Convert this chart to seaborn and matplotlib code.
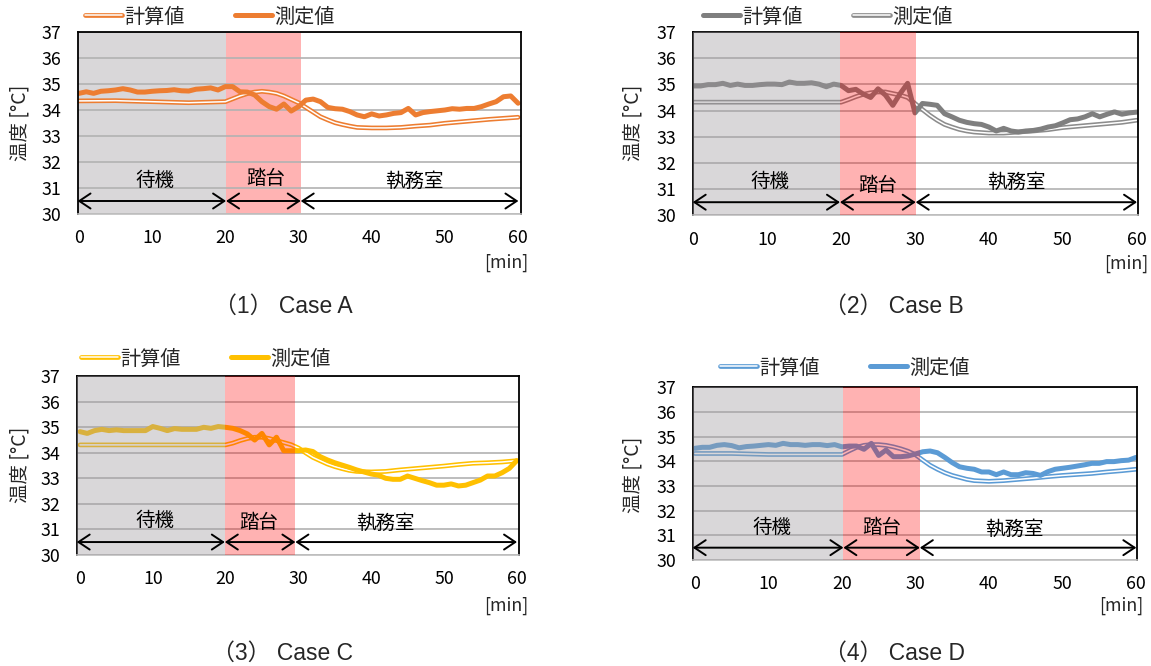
import numpy as np
import pandas as pd
import seaborn as sns
import matplotlib
matplotlib.use("Agg")
import matplotlib.pyplot as plt
from matplotlib.lines import Line2D
from matplotlib.legend_handler import HandlerTuple

# ---------------- data ----------------
minutes = list(range(0, 61))
calc_minutes = [0, 5, 10, 15, 20, 21, 22, 23, 24, 25, 26, 27, 28, 29, 30, 31, 32, 33, 34,
                35, 36, 37, 38, 40, 42, 44, 46, 48, 50, 52, 54, 56, 58, 60]

meas_A = [34.64, 34.70, 34.64, 34.72, 34.74, 34.77, 34.82, 34.77, 34.69, 34.69,
          34.72, 34.74, 34.75, 34.78, 34.74, 34.73, 34.80, 34.82, 34.85, 34.77,
          34.90, 34.90, 34.70, 34.69, 34.58, 34.32, 34.13, 34.03, 34.23, 33.96,
          34.13, 34.38, 34.42, 34.32, 34.10, 34.05, 34.03, 33.94, 33.81, 33.74,
          33.85, 33.77, 33.81, 33.87, 33.90, 34.06, 33.81, 33.90, 33.94, 33.97,
          34.00, 34.05, 34.03, 34.06, 34.06, 34.13, 34.23, 34.32, 34.51, 34.54, 34.26]
calc_A = [34.35, 34.36, 34.32, 34.28, 34.32, 34.43, 34.54, 34.63, 34.69, 34.72, 34.69,
          34.64, 34.54, 34.41, 34.28, 34.10, 33.92, 33.74, 33.62, 33.51, 33.44, 33.38,
          33.33, 33.31, 33.31, 33.33, 33.38, 33.42, 33.49, 33.54, 33.59, 33.64, 33.68, 33.72]

meas_B = [34.94, 34.94, 34.99, 34.99, 35.04, 34.96, 35.01, 34.96, 34.96, 34.99,
          35.01, 35.01, 34.99, 35.09, 35.04, 35.04, 35.06, 35.01, 34.91, 35.01,
          34.96, 34.76, 34.81, 34.63, 34.50, 34.83, 34.59, 34.20, 34.65, 35.04,
          33.91, 34.27, 34.24, 34.20, 33.88, 33.76, 33.63, 33.55, 33.50, 33.47,
          33.37, 33.22, 33.32, 33.22, 33.18, 33.22, 33.24, 33.29, 33.37, 33.42,
          33.53, 33.65, 33.68, 33.76, 33.88, 33.76, 33.86, 33.95, 33.86, 33.91, 33.94]
calc_B = [34.32, 34.32, 34.32, 34.32, 34.32, 34.42, 34.53, 34.62, 34.68, 34.71, 34.71,
          34.65, 34.59, 34.50, 34.27, 34.04, 33.82, 33.63, 33.47, 33.37, 33.28, 33.22,
          33.18, 33.14, 33.14, 33.18, 33.22, 33.27, 33.35, 33.40, 33.45, 33.50, 33.55, 33.63]

meas_C = [34.83, 34.76, 34.87, 34.92, 34.87, 34.90, 34.87, 34.87, 34.87, 34.87,
          35.03, 34.96, 34.87, 34.95, 34.92, 34.92, 34.92, 35.00, 34.96, 35.03,
          35.00, 34.96, 34.87, 34.74, 34.50, 34.76, 34.31, 34.61, 34.08, 34.08,
          34.08, 34.11, 34.05, 33.85, 33.72, 33.61, 33.52, 33.43, 33.33, 33.25,
          33.17, 33.12, 33.00, 32.96, 32.96, 33.09, 33.00, 32.91, 32.83, 32.73,
          32.73, 32.78, 32.70, 32.73, 32.83, 32.93, 33.09, 33.09, 33.22, 33.39, 33.69]
calc_C = [34.31, 34.31, 34.31, 34.31, 34.31, 34.38, 34.48, 34.56, 34.61, 34.61, 34.56,
          34.48, 34.40, 34.32, 34.19, 34.00, 33.82, 33.69, 33.56, 33.46, 33.38, 33.31,
          33.27, 33.25, 33.27, 33.33, 33.38, 33.43, 33.48, 33.54, 33.59, 33.61, 33.64, 33.69]

meas_D = [34.53, 34.57, 34.57, 34.65, 34.68, 34.64, 34.55, 34.60, 34.62, 34.65,
          34.68, 34.65, 34.73, 34.68, 34.68, 34.65, 34.68, 34.68, 34.64, 34.68,
          34.59, 34.62, 34.62, 34.49, 34.73, 34.24, 34.46, 34.19, 34.19, 34.22,
          34.30, 34.39, 34.42, 34.35, 34.16, 33.95, 33.78, 33.72, 33.68, 33.57,
          33.57, 33.46, 33.57, 33.46, 33.46, 33.54, 33.51, 33.43, 33.58, 33.68,
          33.72, 33.76, 33.81, 33.86, 33.92, 33.92, 33.99, 33.99, 34.03, 34.05, 34.16]
calc_D = [34.32, 34.32, 34.28, 34.28, 34.28, 34.43, 34.57, 34.65, 34.68, 34.68, 34.65,
          34.59, 34.51, 34.41, 34.27, 34.05, 33.84, 33.68, 33.54, 33.43, 33.35, 33.27,
          33.22, 33.19, 33.22, 33.27, 33.32, 33.38, 33.43, 33.47, 33.51, 33.57, 33.62, 33.68]

series_labels = ["計算値", "測定値"]
phase_labels = ["待機", "踏台", "執務室"]
y_ticks = [30, 31, 32, 33, 34, 35, 36, 37]
x_ticks = [0, 10, 20, 30, 40, 50, 60]
captions = ["（1） Case A", "（2） Case B", "（3） Case C", "（4） Case D"]

# ---------------- style ----------------
sns.set_theme(style="white")
plt.rcParams["font.family"] = ["Noto Sans CJK JP", "DejaVu Sans"]
CAP_FONT = ["Liberation Sans", "Noto Sans CJK JP"]

W, H = 1151, 666
fig = plt.figure(figsize=(W / 100, H / 100), dpi=100)


def px_rect(l, t, r, b):
    return [l / W, 1 - b / H, (r - l) / W, (b - t) / H]


panels = [
    dict(rect=(77.5, 32, 521, 214), xlim=(-0.2, 60.4), color="#ED7D31", calc_color="#ED7D31",
         meas=meas_A, calc=calc_A, overlay=False, gray_end=20.1, pink_end=30.3,
         legend_xy=(85, 17), swap=False, ylabel_xy=(20, 123), caption_xy=(283, 306),
         phase_x=[10.4, 25.5, 45.9], phase_y=[31.3, 31.35, 31.25], min_xy=(528, 263)),
    dict(rect=(692.7, 32, 1138, 215.3), xlim=(-0.08, 60.18), color="#7F7F7F", calc_color="#8C8C8C",
         meas=meas_B, calc=calc_B, overlay=True, gray_end=19.85, pink_end=30.1,
         legend_xy=(703, 17), swap=True, ylabel_xy=(633, 123), caption_xy=(894, 306),
         phase_x=[10.4, 24.9, 43.7], phase_y=[31.3, 31.15, 31.25], min_xy=(1148, 264)),
    dict(rect=(76.7, 376.3, 519.3, 554.8), xlim=(-0.45, 60.36), color="#FFC000", calc_color="#FFC000",
         meas=meas_C, calc=calc_C, overlay=True, gray_end=19.9, pink_end=29.6,
         legend_xy=(81, 359), swap=False, ylabel_xy=(20, 465), caption_xy=(283, 653),
         phase_x=[10.3, 24.5, 41.9], phase_y=[31.35, 31.25, 31.25], min_xy=(528, 606)),
    dict(rect=(692.7, 387.4, 1137.3, 560), xlim=(-0.3, 60.18), color="#5B9BD5", calc_color="#5B9BD5",
         meas=meas_D, calc=calc_D, overlay=True, gray_end=20.2, pink_end=30.6,
         legend_xy=(720, 368), swap=False, ylabel_xy=(633, 475), caption_xy=(894, 653),
         phase_x=[10.5, 25.4, 43.5], phase_y=[31.3, 31.3, 31.25], min_xy=(1143, 606)),
]

OUT_LW, IN_LW, MEAS_LW = 3.4, 1.1, 3.6

for i, p in enumerate(panels):
    ax = fig.add_axes(px_rect(*p["rect"]))
    x0, x1 = p["xlim"]

    # shaded phases
    if p["overlay"]:
        ax.axvspan(x0, p["gray_end"], color=(160 / 255, 155 / 255, 160 / 255), alpha=0.4, lw=0, zorder=3)
        ax.axvspan(p["gray_end"], p["pink_end"], color="red", alpha=0.3, lw=0, zorder=3)
    else:
        ax.axvspan(x0, p["gray_end"], color="#D9D7D9", lw=0, zorder=0.2)
        ax.axvspan(p["gray_end"], p["pink_end"], color="#FFB3B3", lw=0, zorder=0.2)

    # calculated (double / outlined line)
    sns.lineplot(x=calc_minutes, y=p["calc"], ax=ax, color=p["calc_color"], lw=OUT_LW,
                 legend=False, zorder=2, solid_capstyle="round", solid_joinstyle="round")
    sns.lineplot(x=calc_minutes, y=p["calc"], ax=ax, color="white", lw=IN_LW,
                 legend=False, zorder=2.1, solid_capstyle="round", solid_joinstyle="round")
    # measured (thick line)
    sns.lineplot(x=minutes, y=p["meas"], ax=ax, color=p["color"], lw=MEAS_LW,
                 legend=False, zorder=2.2, solid_capstyle="round", solid_joinstyle="round")

    ax.set_xlim(x0, x1)
    ax.set_ylim(30, 37)
    ax.set_xticks(x_ticks)
    ax.set_yticks(y_ticks)
    ax.set_xlabel("")
    ax.set_ylabel("")
    ax.set_axisbelow(True)
    ax.yaxis.grid(True, color="#B2B2B2", lw=1.2)
    ax.xaxis.grid(False)
    ax.tick_params(axis="both", length=0, labelsize=12.8, colors="black")
    ax.tick_params(axis="x", pad=11)
    ax.tick_params(axis="y", pad=12)
    for side in ["left", "top", "right"]:
        ax.spines[side].set_color("black")
        ax.spines[side].set_linewidth(1.3)
    ax.spines["bottom"].set_color("#BFBFBF")
    ax.spines["bottom"].set_linewidth(1.2)

    # phase arrows and labels
    edges = [x0, p["gray_end"], p["pink_end"], 60.05]
    for a, b in zip(edges[:-1], edges[1:]):
        ax.annotate("", xy=(b, 30.5), xytext=(a, 30.5),
                    arrowprops=dict(arrowstyle="<->,head_length=0.45,head_width=0.3",
                                    lw=1.4, color="black", shrinkA=0, shrinkB=0,
                                    mutation_scale=18),
                    zorder=4, annotation_clip=False)
    for lab, xp, yp in zip(phase_labels, p["phase_x"], p["phase_y"]):
        ax.text(xp, yp, lab, ha="center", va="center", fontsize=14, color="black", zorder=5)

    # legend
    outl = (Line2D([], [], color=p["calc_color"], lw=OUT_LW, solid_capstyle="round"),
            Line2D([], [], color="white", lw=IN_LW, solid_capstyle="round"))
    thick = Line2D([], [], color=p["color"], lw=MEAS_LW, solid_capstyle="round")
    handles = [thick, outl] if p["swap"] else [outl, thick]
    lx, ly = p["legend_xy"]
    fig.legend(handles, series_labels, loc="center left", bbox_to_anchor=(lx / W, 1 - ly / H),
               ncol=2, frameon=False, fontsize=14.5, handlelength=1.85, handletextpad=0.1,
               columnspacing=2.5, borderpad=0, borderaxespad=0,
               handler_map={tuple: HandlerTuple(ndivide=1, pad=0)})

    # texts
    yx, yy = p["ylabel_xy"]
    fig.text(yx / W, 1 - yy / H, "温度 [°C]", rotation=90, ha="center", va="center", fontsize=14)
    mx, my = p["min_xy"]
    fig.text(mx / W, 1 - my / H, "[min]", ha="right", va="center", fontsize=12.8)
    cx, cy = p["caption_xy"]
    fig.text(cx / W, 1 - cy / H, captions[i], ha="center", va="center", fontsize=16.5, family=CAP_FONT)

fig.savefig("out.png", dpi=100)
